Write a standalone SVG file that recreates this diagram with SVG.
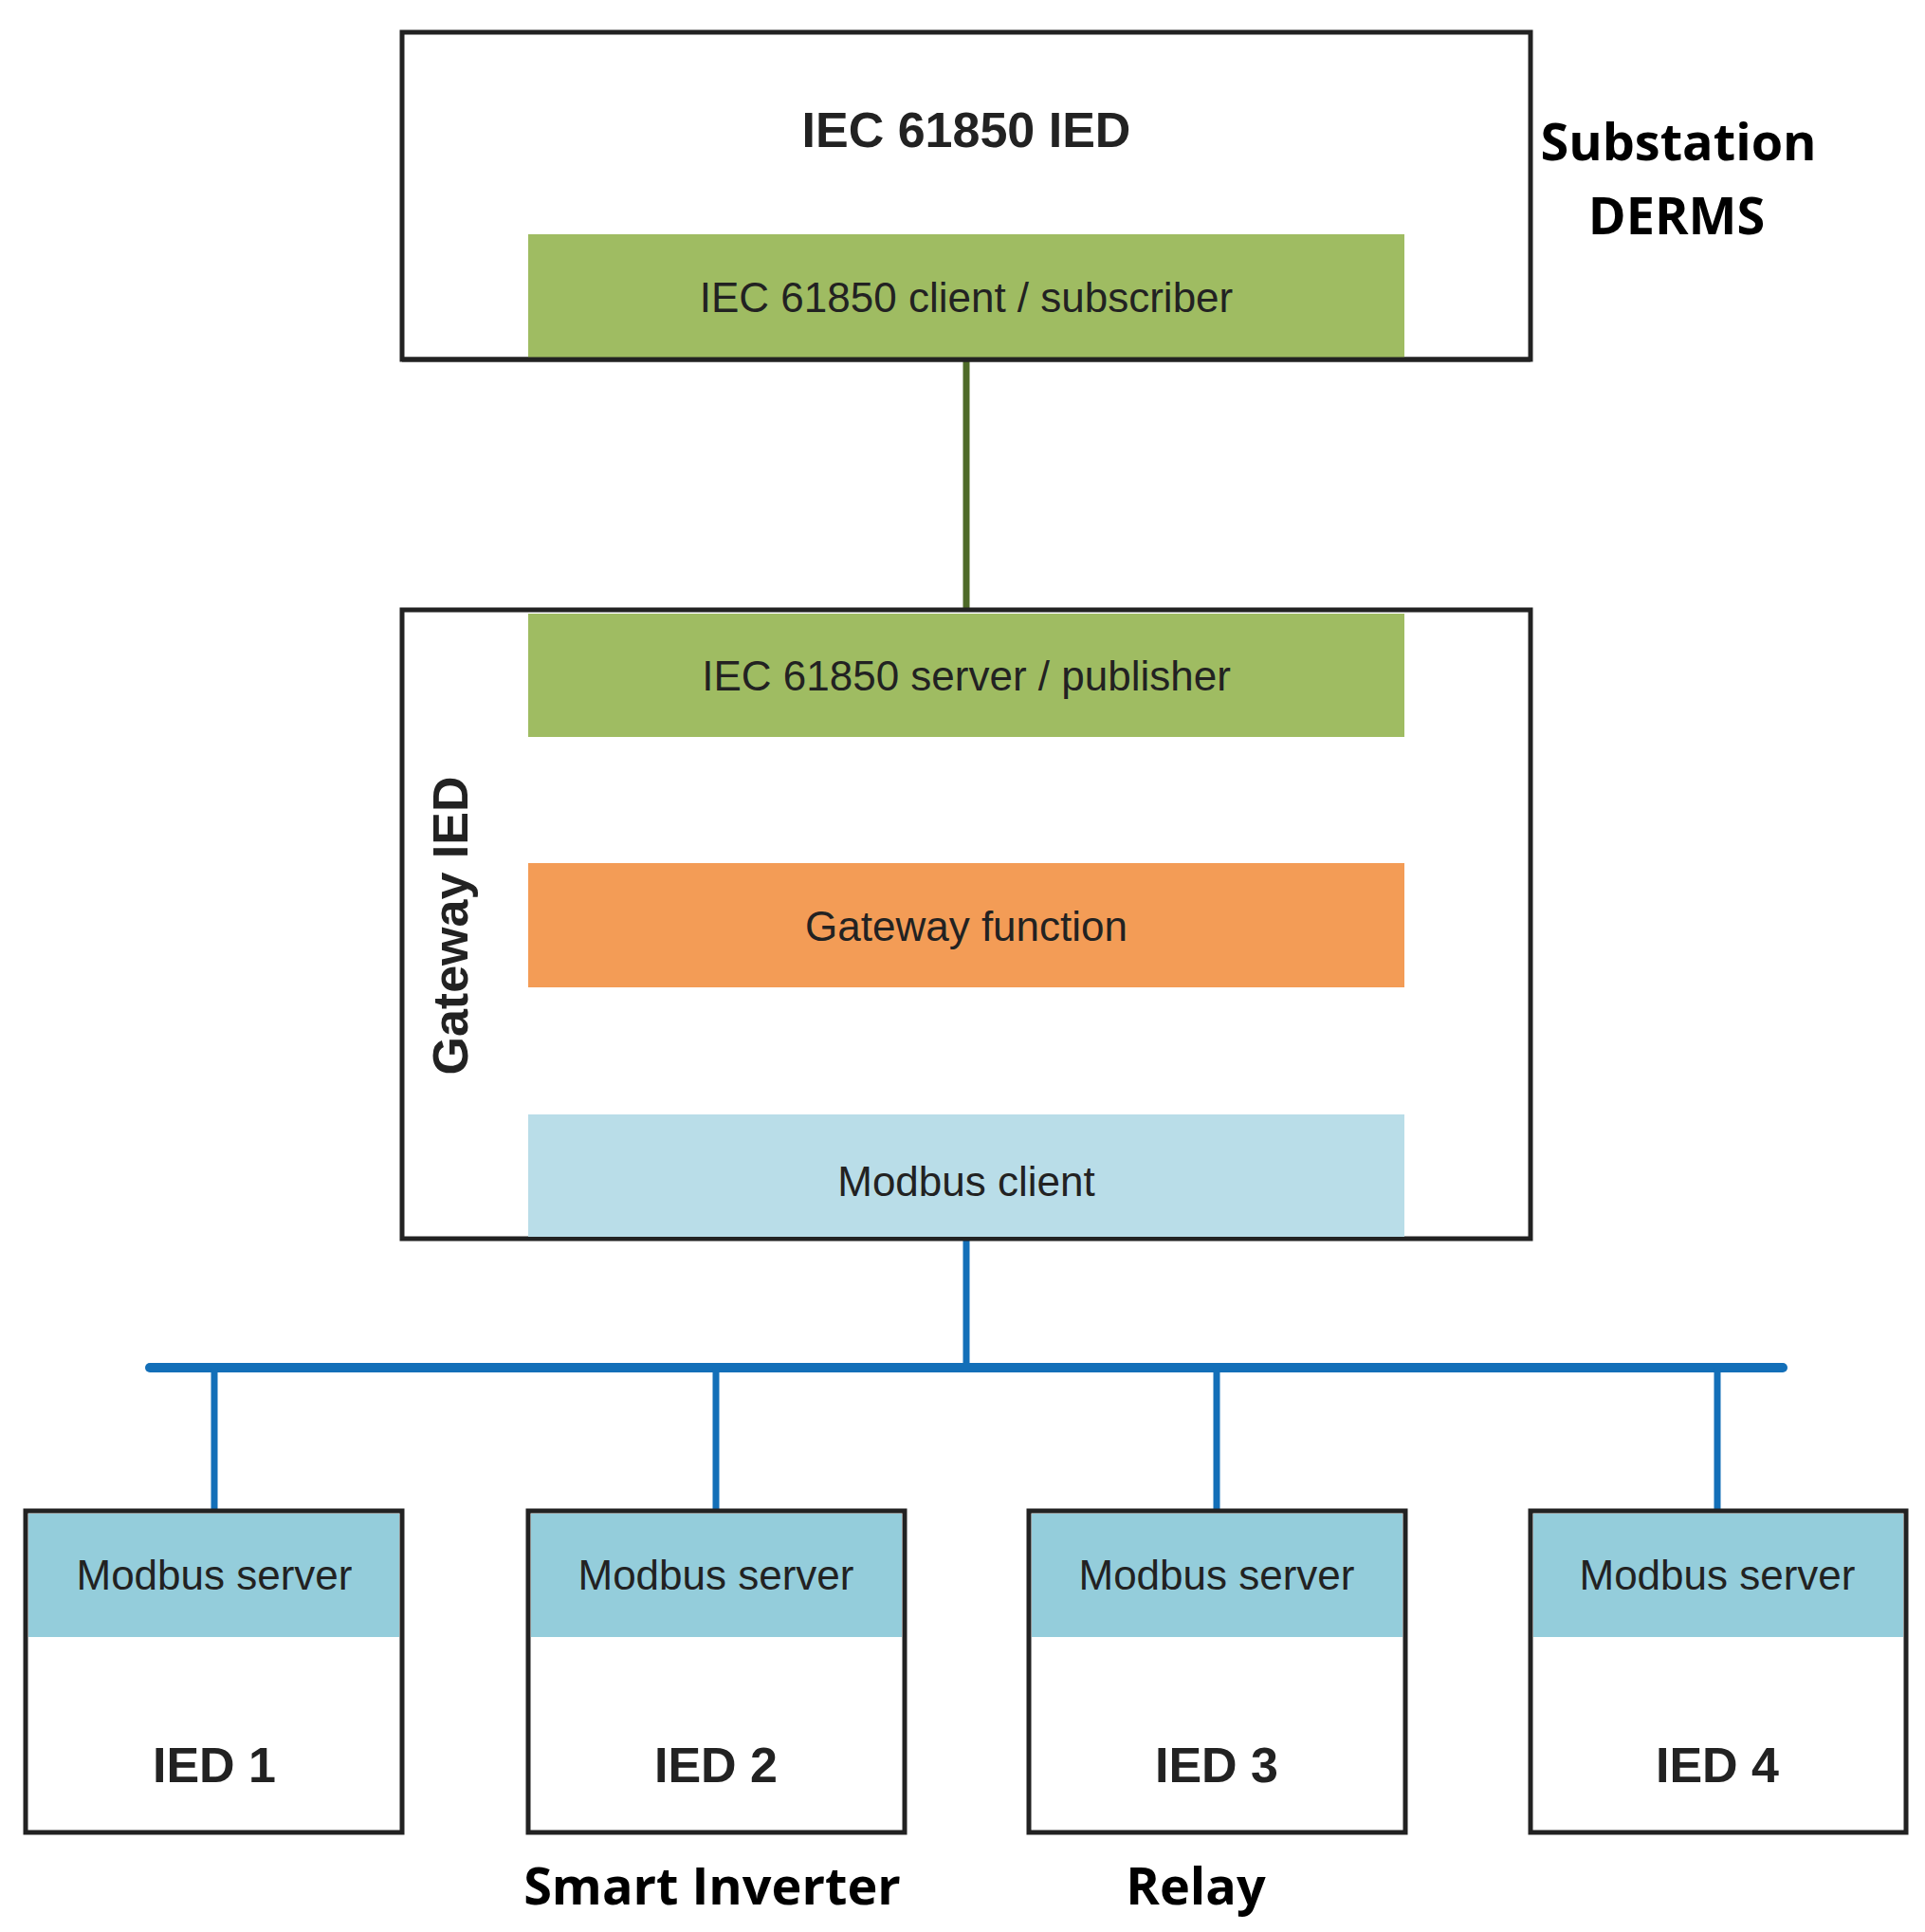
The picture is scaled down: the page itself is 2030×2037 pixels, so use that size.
<svg xmlns="http://www.w3.org/2000/svg" width="2030" height="2037" viewBox="0 0 2030 2037">
<style>
.box{fill:#fff;stroke:#222;stroke-width:5}
.t{font-family:"Liberation Sans",Arial,sans-serif;fill:#222;text-anchor:middle;dominant-baseline:central}
.m{font-size:44px}
.b{font-size:52px;font-weight:bold}
.lab{font-family:"Open Sans","Liberation Sans",sans-serif;font-weight:bold;font-size:54px;fill:#000;text-anchor:middle;dominant-baseline:central}
.hdr{fill:#94cddb}
.blue{stroke:#136fb8;fill:none}
</style>
<rect width="2030" height="2037" fill="#fff"/>
<g id="connectors">
<line x1="1019" y1="379" x2="1019" y2="643" stroke="#4e6a28" stroke-width="7"/>
<line x1="1019" y1="777" x2="1019" y2="910" stroke="#222" stroke-width="2"/>
<line x1="1019" y1="1041" x2="1019" y2="1175" stroke="#222" stroke-width="2"/>
<line class="blue" x1="1019" y1="1306" x2="1019" y2="1442" stroke-width="7"/>
<line class="blue" x1="158" y1="1442" x2="1880" y2="1442" stroke-width="10" stroke-linecap="round"/>
<line class="blue" x1="226" y1="1442" x2="226" y2="1593" stroke-width="7"/>
<line class="blue" x1="755" y1="1442" x2="755" y2="1593" stroke-width="7"/>
<line class="blue" x1="1283" y1="1442" x2="1283" y2="1593" stroke-width="7"/>
<line class="blue" x1="1811" y1="1442" x2="1811" y2="1593" stroke-width="7"/>
</g>
<g id="derms">
<rect class="box" x="424" y="34" width="1190" height="345"/>
<rect x="557" y="247" width="924" height="130" fill="#9fbc62"/>
<line x1="424" y1="379" x2="1614" y2="379" stroke="#222" stroke-width="5"/>
<text class="t b" x="1019" y="137">IEC 61850 IED</text>
<text class="t m" x="1019" y="313">IEC 61850 client / subscriber</text>
<text class="lab" x="1770" y="148">Substation</text>
<text class="lab" x="1768" y="226">DERMS</text>
</g>
<g id="gateway">
<rect class="box" x="424" y="643" width="1190" height="663"/>
<rect x="557" y="647" width="924" height="130" fill="#9fbc62"/>
<text class="t m" x="1019" y="712">IEC 61850 server / publisher</text>
<rect x="557" y="910" width="924" height="131" fill="#f39c56"/>
<text class="t m" x="1019" y="976">Gateway function</text>
<rect x="557" y="1175" width="924" height="129" fill="#b9dde8"/>
<text class="t m" x="1019" y="1245">Modbus client</text>
<text class="t b" x="0" y="0" transform="translate(475,976) rotate(-90)">Gateway IED</text>
</g>
<g id="ied1"><rect class="box" x="27" y="1593" width="397" height="339"/><rect class="hdr" x="30" y="1596" width="391" height="130"/><text class="t m" x="226" y="1660">Modbus server</text><text class="t b" x="226" y="1861">IED 1</text></g>
<g id="ied2"><rect class="box" x="557" y="1593" width="397" height="339"/><rect class="hdr" x="560" y="1596" width="391" height="130"/><text class="t m" x="755" y="1660">Modbus server</text><text class="t b" x="755" y="1861">IED 2</text></g>
<g id="ied3"><rect class="box" x="1085" y="1593" width="397" height="339"/><rect class="hdr" x="1088" y="1596" width="391" height="130"/><text class="t m" x="1283" y="1660">Modbus server</text><text class="t b" x="1283" y="1861">IED 3</text></g>
<g id="ied4"><rect class="box" x="1614" y="1593" width="396" height="339"/><rect class="hdr" x="1617" y="1596" width="390" height="130"/><text class="t m" x="1811" y="1660">Modbus server</text><text class="t b" x="1811" y="1861">IED 4</text></g>
<text class="lab" x="751" y="1987">Smart Inverter</text>
<text class="lab" x="1261" y="1987">Relay</text>
</svg>
